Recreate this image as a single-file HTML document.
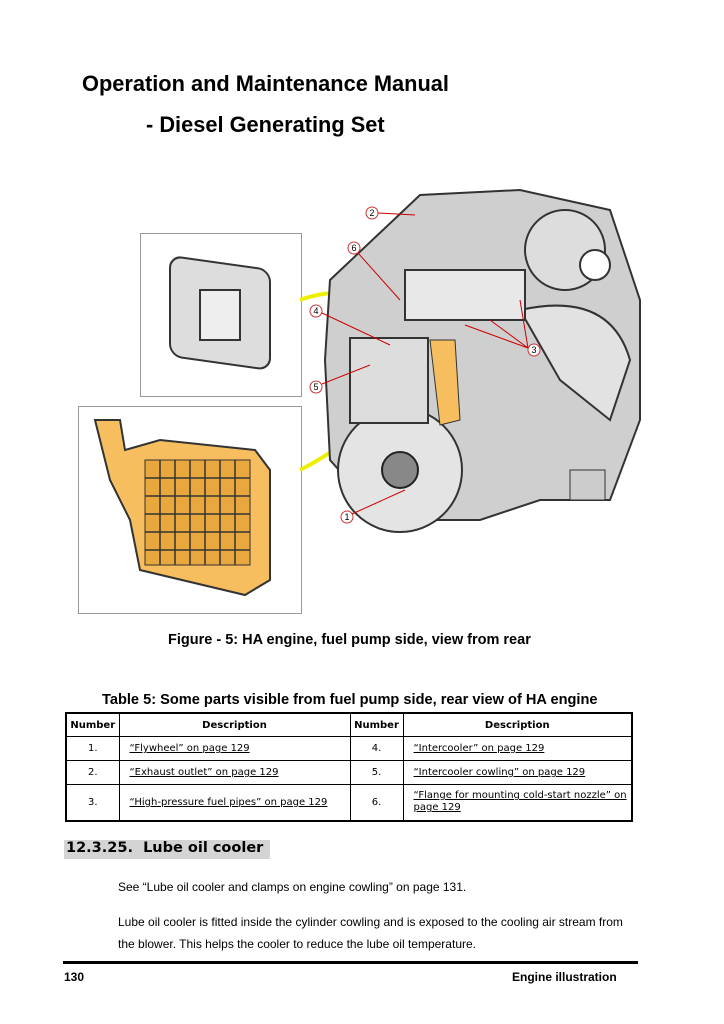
<!DOCTYPE html>
<html><head><meta charset="utf-8"><style>
body{margin:0;background:#fff;width:724px;height:1024px;position:relative;overflow:hidden;font-family:"Liberation Sans",sans-serif;color:#000}
.a{position:absolute;white-space:nowrap}
table{position:absolute;left:65px;top:712px;width:568px;border-collapse:collapse;border:2px solid #000;font-family:"DejaVu Sans",sans-serif;font-size:10px;table-layout:fixed}
td{border:1px solid #000;padding:0 4px 0 10px;text-align:center}
td.c{padding:0}
td.l{text-align:left}
th{border:1px solid #000;font-size:10px;height:22px;padding:0}
</style></head><body>
<div class="a" style="left:82px;top:71px;font-size:21.8px;font-weight:bold">Operation and Maintenance Manual</div>
<div class="a" style="left:146px;top:112px;font-size:21.8px;font-weight:bold">- Diesel Generating Set</div>

<svg class="a" style="left:0;top:0" width="724" height="640">
<rect x="140.5" y="233.5" width="161" height="163" fill="#fff" stroke="#999"/>
<rect x="78.5" y="406.5" width="223" height="207" fill="#fff" stroke="#999"/>
<rect x="170" y="262" width="100" height="100" rx="12" fill="#ddd" stroke="#333" stroke-width="2" transform="skewY(8) translate(0,-30)"/>
<rect x="200" y="290" width="40" height="50" fill="#eee" stroke="#333" stroke-width="2"/>
<path d="M95 420 L120 420 L125 450 L160 440 L255 450 L270 470 L270 580 L245 595 L140 570 L130 520 L110 480 L100 440Z" fill="#f6be5e" stroke="#333" stroke-width="2"/>
<rect x="145" y="460" width="105" height="105" fill="#e9a83e" stroke="#333"/>
<g stroke="#333" stroke-width="1.5"><path d="M160 460v105M175 460v105M190 460v105M205 460v105M220 460v105M235 460v105M145 478h105M145 496h105M145 514h105M145 532h105M145 550h105"/></g>
<path d="M300 300 Q340 285 395 300" stroke="#ee0" stroke-width="4" fill="none"/>
<path d="M300 470 Q360 440 390 390" stroke="#ee0" stroke-width="4" fill="none"/>
<path d="M330 280 L420 195 L520 190 L610 210 L640 300 L640 420 L610 500 L540 500 L480 520 L420 520 L370 505 L330 460 L325 360Z" fill="#cfcfcf" stroke="#333" stroke-width="2"/>
<circle cx="400" cy="470" r="62" fill="#e4e4e4" stroke="#333" stroke-width="2"/>
<circle cx="400" cy="470" r="18" fill="#888" stroke="#222" stroke-width="2"/>
<circle cx="565" cy="250" r="40" fill="#ddd" stroke="#333" stroke-width="2"/>
<circle cx="595" cy="265" r="15" fill="#fff" stroke="#333" stroke-width="2"/>
<path d="M520 310 Q610 290 630 360 L610 420 L560 380Z" fill="#e2e2e2" stroke="#333" stroke-width="2"/>
<rect x="350" y="338" width="78" height="85" fill="#ddd" stroke="#333" stroke-width="2"/>
<rect x="405" y="270" width="120" height="50" fill="#e8e8e8" stroke="#333" stroke-width="2"/>
<path d="M430 340 L455 340 L460 420 L440 425Z" fill="#f6be5e" stroke="#333"/>
<rect x="570" y="470" width="35" height="30" fill="#ccc" stroke="#333"/>
<g fill="#fff" stroke="#c33" stroke-width="1"><circle cx="372" cy="213" r="6"/><circle cx="354" cy="248" r="6"/><circle cx="316" cy="311" r="6"/><circle cx="316" cy="387" r="6"/><circle cx="534" cy="350" r="6"/><circle cx="347" cy="517" r="6"/></g>
<g font-size="9" text-anchor="middle" font-family="Liberation Sans"><text x="372" y="216">2</text><text x="354" y="251">6</text><text x="316" y="314">4</text><text x="316" y="390">5</text><text x="534" y="353">3</text><text x="347" y="520">1</text></g>
<g stroke="#c00" stroke-width="1" fill="none"><path d="M378 213 L415 215"/><path d="M358 253 L400 300"/><path d="M322 313 L390 345"/><path d="M322 384 L370 365"/><path d="M528 348 L490 320 M528 348 L465 325 M528 348 L520 300"/><path d="M352 514 L405 490"/></g>
</svg>

<div class="a" style="left:168px;top:632px;font-size:14.5px;font-weight:bold">Figure - 5: HA engine, fuel pump side, view from rear</div>
<div class="a" style="left:102px;top:692px;font-size:14.6px;font-weight:bold">Table 5: Some parts visible from fuel pump side, rear view of HA engine</div>
<table>
<colgroup><col style="width:53px"><col style="width:231px"><col style="width:53px"><col></colgroup>
<tr><th>Number</th><th>Description</th><th>Number</th><th>Description</th></tr>
<tr style="height:24px"><td class="c">1.</td><td class="l"><u>“Flywheel” on page 129</u></td><td class="c">4.</td><td class="l"><u>“Intercooler” on page 129</u></td></tr>
<tr style="height:24px"><td class="c">2.</td><td class="l"><u>“Exhaust outlet” on page 129</u></td><td class="c">5.</td><td class="l"><u>“Intercooler cowling” on page 129</u></td></tr>
<tr style="height:36px"><td class="c">3.</td><td class="l"><u>“High-pressure fuel pipes” on page 129</u></td><td class="c">6.</td><td class="l" style="line-height:12px;white-space:normal"><u>“Flange for mounting cold-start nozzle” on page 129</u></td></tr>
</table>
<div class="a" style="left:64px;top:840px;width:206px;height:19px;background:#d4d4d4"></div>
<div class="a" style="left:66px;top:840px;font-size:14.5px;font-weight:bold;font-family:'DejaVu Sans',sans-serif">12.3.25.&nbsp; Lube oil cooler</div>
<div class="a" style="left:118px;top:880px;font-size:12px">See “Lube oil cooler and clamps on engine cowling” on page 131.</div>
<div class="a" style="left:118px;top:915px;font-size:12px">Lube oil cooler is fitted inside the cylinder cowling and is exposed to the cooling air stream from</div>
<div class="a" style="left:118px;top:937px;font-size:12px">the blower. This helps the cooler to reduce the lube oil temperature.</div>
<div class="a" style="left:63px;top:961px;width:575px;height:3px;background:#000"></div>
<div class="a" style="left:64px;top:970px;font-size:12px;font-weight:bold">130</div>
<div class="a" style="left:512px;top:970px;font-size:12px;font-weight:bold">Engine illustration</div>
</body></html>
